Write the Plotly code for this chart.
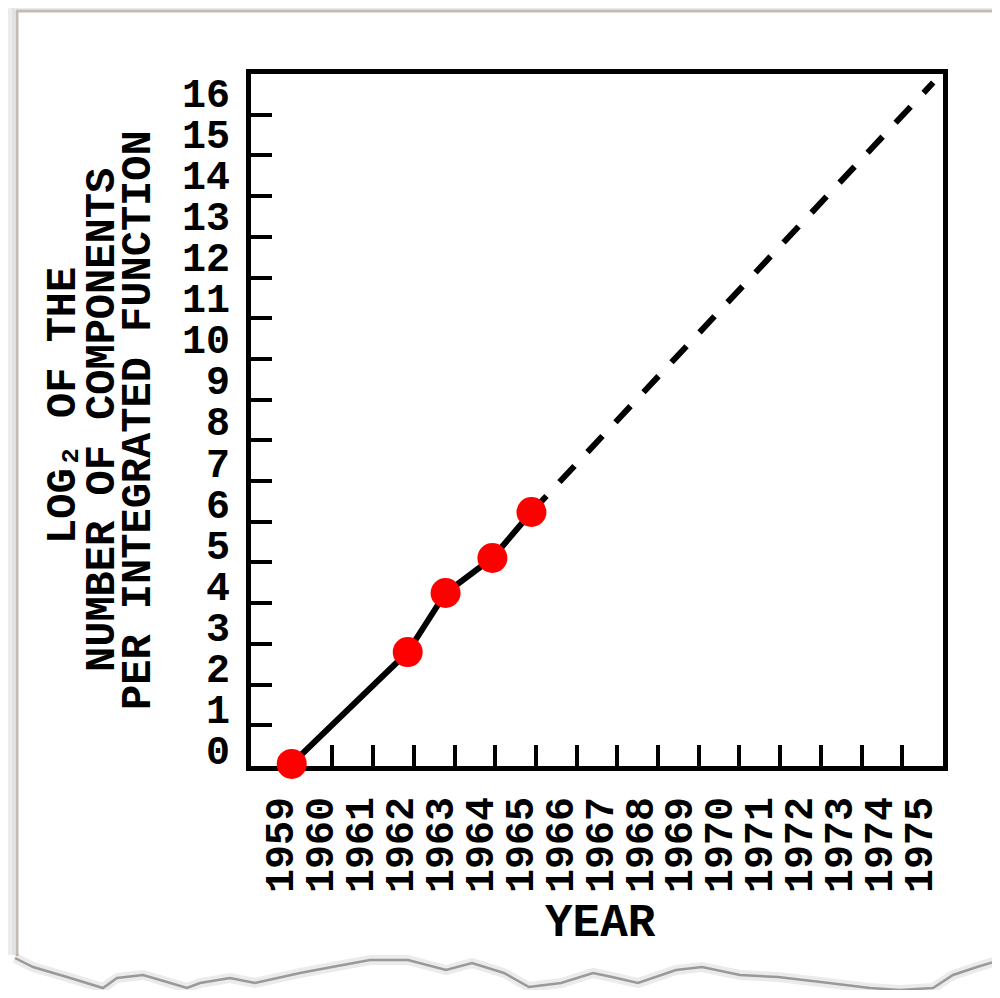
import plotly.graph_objects as go

# ---------------- data ----------------
point_years = [1959.0, 1961.85, 1962.78, 1963.93, 1964.89]
log2_components = [0.05, 2.80, 4.25, 5.11, 6.24]

projection_years = [1964.89, 1974.76]
projection_log2 = [6.24, 16.79]

tick_years = [1960, 1961, 1962, 1963, 1964, 1965, 1966, 1967, 1968,
              1969, 1970, 1971, 1972, 1973, 1974]
year_labels = [1959, 1960, 1961, 1962, 1963, 1964, 1965, 1966, 1967,
               1968, 1969, 1970, 1971, 1972, 1973, 1974, 1975]
log_ticks = [1, 2, 3, 4, 5, 6, 7, 8, 9, 10, 11, 12, 13, 14, 15, 16]
log_labels = [0, 1, 2, 3, 4, 5, 6, 7, 8, 9, 10, 11, 12, 13, 14, 15, 16]

# ---------------- layout geometry ----------------
# the page body has an 8px margin, so the figure is 16px smaller than
# the window and every window pixel position is offset by 8.
OFF = 8
W, H = 984, 982
ML, MR, MT, MB = 243, 49, 66, 224
PW = W - ML - MR          # 692
PH = H - MT - MB          # 692
PLOT_LEFT_WIN = ML + OFF  # 251
PLOT_BOTTOM_WIN = H - MB + OFF  # 766


def px2x(px):
    return (px - PLOT_LEFT_WIN) / PW


def py2y(py):
    return (PLOT_BOTTOM_WIN - py) / PH


FONT = "Liberation Mono"

fig = go.Figure()

# solid measured line
fig.add_trace(go.Scatter(
    x=point_years, y=log2_components, mode="lines",
    line=dict(color="black", width=6), cliponaxis=False,
    hoverinfo="skip", showlegend=False))
# dashed extrapolation
fig.add_trace(go.Scatter(
    x=projection_years, y=projection_log2, mode="lines",
    line=dict(color="black", width=6, dash="22px,19px"),
    hoverinfo="skip", showlegend=False))
# red points
fig.add_trace(go.Scatter(
    x=point_years, y=log2_components, mode="markers",
    marker=dict(color="#ff0000", size=30, line=dict(width=0)),
    cliponaxis=False, hoverinfo="skip", showlegend=False))
# invisible trace carrying the label axes
fig.add_trace(go.Scatter(
    x=[year_labels[0]], y=[log_labels[0]], xaxis="x2", yaxis="y2",
    mode="markers", marker=dict(opacity=0), hoverinfo="skip",
    showlegend=False))

axis_common = dict(
    showline=True, linewidth=4.5, linecolor="black", mirror=True,
    ticks="inside", ticklen=21, tickwidth=4, tickcolor="black",
    showticklabels=False, showgrid=False, zeroline=False,
    layer="below traces", fixedrange=True)

label_font = dict(family=FONT, size=40, color="black", weight="bold")

fig.update_layout(
    width=W, height=H,
    margin=dict(l=ML, r=MR, t=MT, b=MB, pad=0),
    paper_bgcolor="white", plot_bgcolor="white",
    xaxis=dict(range=[1958, 1975], tickvals=tick_years, **axis_common),
    yaxis=dict(range=[0, 17], tickvals=log_ticks, **axis_common),
    xaxis2=dict(range=[1958.27, 1975.60], overlaying="x", anchor="y",
                side="bottom", tickvals=year_labels,
                ticktext=[str(v) for v in year_labels], tickangle=-90,
                ticks="", showline=False, showgrid=False, zeroline=False,
                tickfont=label_font, ticklabelstandoff=22, fixedrange=True),
    yaxis2=dict(range=[-0.39, 16.46], overlaying="y", anchor="x",
                side="left", tickvals=log_labels,
                ticktext=[str(v) for v in log_labels],
                ticks="", showline=False, showgrid=False, zeroline=False,
                tickfont=label_font, ticklabelstandoff=20, fixedrange=True),
)

title_font = dict(family=FONT, size=42, color="black", weight="bold")
ytitle_lines = ["LOG\u2082 OF THE",
                "NUMBER OF COMPONENTS",
                "PER INTEGRATED FUNCTION"]
ytitle_px = [64, 103, 139]
ytitle_py = [406, 420, 420]
for txt, xp, yp in zip(ytitle_lines, ytitle_px, ytitle_py):
    fig.add_annotation(text=txt, xref="paper", yref="paper",
                       x=px2x(xp), y=py2y(yp), xanchor="center",
                       yanchor="middle", textangle=-90, showarrow=False,
                       font=title_font)

fig.add_annotation(text="YEAR", xref="paper", yref="paper",
                   x=px2x(600), y=py2y(924), xanchor="center",
                   yanchor="middle", showarrow=False,
                   font=dict(family=FONT, size=46, color="black",
                             weight="bold"))

# ---------------- paper page decoration ----------------
shapes = []
# left shadow strips
for x0, x1, col in [(8, 12, "#ececec"), (12, 15, "#e2e2e2")]:
    shapes.append(dict(type="rect", xref="paper", yref="paper",
                       x0=px2x(x0), x1=px2x(x1), y0=py2y(955), y1=py2y(8),
                       fillcolor=col, line=dict(width=0), layer="below"))
# top shadow strip
shapes.append(dict(type="rect", xref="paper", yref="paper",
                   x0=px2x(15), x1=px2x(1000), y0=py2y(9.5), y1=py2y(8),
                   fillcolor="#ebebeb", line=dict(width=0), layer="below"))
# page borders
shapes.append(dict(type="line", xref="paper", yref="paper",
                   x0=px2x(17), x1=px2x(17), y0=py2y(956), y1=py2y(10),
                   line=dict(color="#c4bcb3", width=3), layer="below"))
shapes.append(dict(type="line", xref="paper", yref="paper",
                   x0=px2x(16), x1=px2x(1000), y0=py2y(11), y1=py2y(11),
                   line=dict(color="#c4bcb3", width=3), layer="below"))

# torn bottom edge
torn = [(15, 958), (33, 967), (67, 977), (103, 988), (117, 978),
        (143, 975), (167, 982), (187, 988), (200, 983), (230, 978),
        (255, 983), (300, 973), (332, 967), (370, 960), (408, 960),
        (446, 970), (472, 963), (504, 973), (529, 987), (561, 983),
        (593, 973), (612, 977), (638, 983), (676, 970), (702, 967),
        (740, 975), (778, 977), (829, 983), (870, 988), (900, 990),
        (933, 988), (953, 975), (977, 967), (1000, 960)]
path = "M " + " L ".join(f"{px2x(a):.5f},{py2y(b):.5f}" for a, b in torn)
shapes.append(dict(type="path", xref="paper", yref="paper", path=path,
                   line=dict(color="rgba(0,0,0,0.08)", width=10),
                   layer="below"))
shapes.append(dict(type="path", xref="paper", yref="paper", path=path,
                   line=dict(color="rgba(0,0,0,0.35)", width=2.5),
                   layer="below"))
fig.update_layout(shapes=shapes)

fig.write_html("out.html")
